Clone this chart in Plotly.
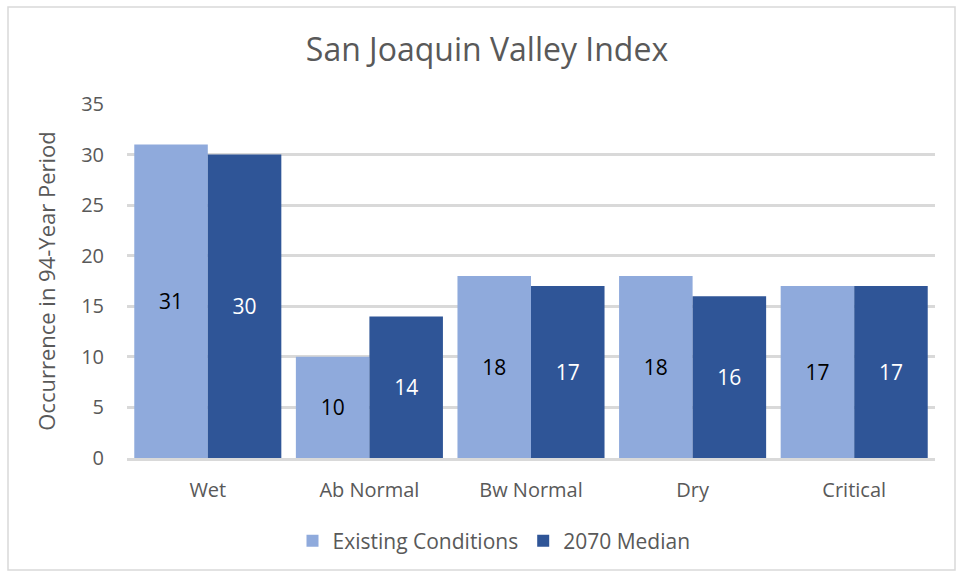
import plotly.graph_objects as go

categories = ["Wet", "Ab Normal", "Bw Normal", "Dry", "Critical"]
existing = [31, 10, 18, 18, 17]
median2070 = [30, 14, 17, 16, 17]
series_names = ["Existing Conditions", "2070 Median"]

L, R, T, B = 127, 27, 104, 117
W, H = 962, 575
pw, ph = W - L - R, H - T - B
FONT = "Open Sans"

fig = go.Figure()
fig.add_trace(go.Bar(
    x=categories, y=existing, name=series_names[0],
    marker=dict(color="#8FAADC", line=dict(width=0)),
    text=existing, textposition="inside", insidetextanchor="middle",
    textfont=dict(color="black", size=21, family=FONT),
))
fig.add_trace(go.Bar(
    x=categories, y=median2070, name=series_names[1],
    marker=dict(color="#2F5597", line=dict(width=0)),
    text=median2070, textposition="inside", insidetextanchor="middle",
    textfont=dict(color="white", size=21, family=FONT),
))

fig.update_layout(
    width=W, height=H,
    margin=dict(l=L, r=R, t=T, b=B, autoexpand=False),
    paper_bgcolor="white", plot_bgcolor="white",
    barmode="group", bargap=0.09, bargroupgap=0,
    font=dict(family=FONT, color="#595959", size=20),
    title=dict(text="San Joaquin Valley Index", x=487 / W, xanchor="center",
               xref="container", y=1 - 50 / H, yanchor="middle", yref="container",
               font=dict(size=32, color="#595959", family=FONT)),
    showlegend=True,
    legend=dict(orientation="h", x=(494 - L) / pw, xanchor="center",
                y=(H - B - 541) / ph, yanchor="middle",
                font=dict(size=21, color="#595959"),
                traceorder="normal"),
    shapes=[dict(type="rect", xref="paper", yref="paper",
                 x0=(8 - L) / pw, x1=(955 - L) / pw,
                 y0=(H - B - 570) / ph, y1=(H - B - 7) / ph,
                 line=dict(color="#d9d9d9", width=1.5), layer="below")],
)
fig.update_yaxes(range=[0, 35], dtick=5, showgrid=True, gridcolor="#d9d9d9",
                 gridwidth=2.5, zeroline=False, showline=False,
                 ticks="", ticklabelstandoff=22, automargin=False,
                 tickfont=dict(size=20, color="#595959"),
                 title=dict(text="Occurrence in 94-Year Period", standoff=19,
                            font=dict(size=22, color="#595959")))
fig.update_xaxes(showline=True, linecolor="#d9d9d9", linewidth=2.5,
                 ticks="", ticklabelstandoff=12, automargin=False,
                 tickfont=dict(size=20, color="#595959"))

fig.write_html("out.html", config={"displayModeBar": False},
               post_script="document.body.style.margin='0px';")
